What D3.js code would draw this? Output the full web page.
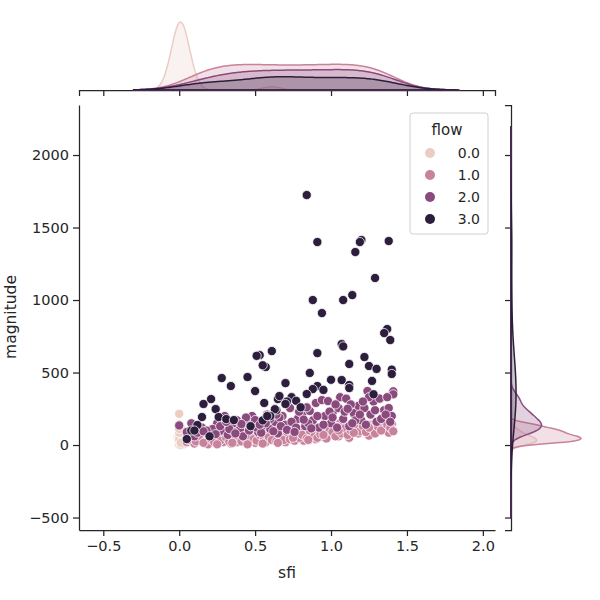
<html>
<head>
<meta charset="UTF-8">
<script src="https://d3js.org/d3.v7.min.js"></script>
<style>
  body { margin: 0; background: white; }
  text { font-family: "DejaVu Sans", sans-serif; fill: #262626; }
</style>
</head>
<body>
<svg></svg>
<script>
  // data: [sfi, magnitude] per flow level
  let flowLevels = ["0.0", "1.0", "2.0", "3.0"];
  let colors = ["#ebcdc4", "#c8829b", "#8b4a7e", "#2d1e3e"];
  let xTicks = [-0.5, 0, 0.5, 1, 1.5, 2];
  let yTicks = [-500, 0, 500, 1000, 1500, 2000];

  let flow0 = [[0,0],[0.01,20],[0,40],[0.02,60],[0,80],[0.01,100],[0,215],[0.02,10],[0,30],[0.01,50],
    [0.03,5],[0,70],[0.02,90],[0.01,120],[0,15],[0.6,100],[0.62,70],[0.0,140],[0.02,25],
    [0.04,35],[-0.01,55],[0.0,45],[0.01,8],[0,12],[0.01,28],[0,33],[0.02,38],[0,48],[0.01,42],
    [0,22],[0.03,18],[0,62],[0.01,66],[0,58],[0.02,52],[0,3],[0.01,2],[0,26],[0.02,44],[0,36],
    [0.01,75],[0,85],[0.03,30],[0,110],[0.01,16]];
  let flow1 = [[0.05,20],[0.08,60],[0.1,10],[0.12,40],[0.15,80],[0.18,25],[0.2,55],[0.22,100],[0.25,15],[0.28,45],
    [0.3,70],[0.32,30],[0.35,90],[0.38,20],[0.4,60],[0.42,110],[0.45,35],[0.48,75],[0.5,15],[0.52,50],
    [0.55,95],[0.58,30],[0.6,65],[0.62,120],[0.65,40],[0.68,80],[0.7,20],[0.72,55],[0.75,105],[0.78,45],
    [0.8,85],[0.82,30],[0.85,60],[0.88,120],[0.9,40],[0.92,90],[0.95,55],[0.98,130],[1.0,75],[1.02,110],
    [1.05,60],[1.08,140],[1.1,95],[1.12,50],[1.15,125],[1.18,80],[1.2,150],[1.22,105],[1.25,65],[1.28,135],
    [1.3,95],[1.32,160],[1.35,120],[1.38,85],[1.4,145],[1.4,110],[1.36,150],[1.26,140],[1.16,145],[1.06,150],
    [0.87,75],[0.66,45],[0.44,80],[0.24,60],[0.14,30],[0.34,10],[0.54,25],[0.74,70],[0.94,105],[1.14,110],
    [1.34,130],[0.09,45],[0.19,5],[0.29,20],[0.39,40],
    [0.06,35],[0.11,25],[0.13,65],[0.16,15],[0.21,40],[0.23,20],[0.26,75],[0.27,30],[0.31,50],[0.33,25],
    [0.36,40],[0.37,65],[0.41,25],[0.43,50],[0.46,20],[0.47,55],[0.49,40],[0.51,30],[0.53,70],[0.56,45],
    [0.57,20],[0.59,55],[0.61,35],[0.64,25],[0.67,60],[0.69,35],[0.71,90],[0.73,40],[0.76,30],[0.77,60],
    [0.79,50],[0.81,70],[0.84,45],[0.86,100],[0.89,60],[0.91,50],[0.93,75],[0.96,95],[0.97,45],[0.99,100],
    [1.01,90],[1.03,60],[1.04,125],[1.07,80],[1.09,115],[1.11,70],[1.13,100],[1.17,115],[1.19,95],[1.21,130],
    [1.23,90],[1.24,140],[1.27,110],[1.29,80],[1.31,125],[1.33,100],[1.37,140],[1.39,120],[1.41,95],[0.35,15],
    [0.45,5],[0.55,10],[0.25,5],[0.65,15],[0.75,50],[0.85,35],[0.95,70],[1.05,100],[1.15,85],[1.25,120]];
  let flow2 = [[0.0,135],[0.05,90],[0.1,60],[0.15,120],[0.2,80],[0.25,150],[0.28,100],[0.3,200],[0.32,70],[0.35,130],
    [0.38,170],[0.4,110],[0.42,60],[0.45,150],[0.48,200],[0.5,172],[0.52,90],[0.55,130],[0.58,210],[0.6,110],
    [0.63,160],[0.65,80],[0.68,200],[0.7,140],[0.73,255],[0.75,100],[0.78,180],[0.81,217],[0.83,130],[0.86,235],
    [0.88,170],[0.9,290],[0.92,120],[0.94,310],[0.96,200],[0.98,303],[1.0,150],[1.02,240],[1.05,255],[1.06,330],
    [1.08,180],[1.1,320],[1.12,130],[1.15,220],[1.18,270],[1.2,170],[1.22,255],[1.24,372],[1.26,210],[1.28,300],
    [1.3,160],[1.32,320],[1.35,240],[1.38,255],[1.4,200],[1.41,370],[1.41,350],[1.37,330],[1.25,330],[1.13,280],
    [0.99,230],[0.79,230],[0.6,180],[0.44,190],[0.22,110],[0.08,150],[0.36,90],[0.66,190],[0.85,150],[1.16,170],
    [0.12,85],[0.18,100],[0.24,75],[0.27,130],[0.33,110],[0.37,80],[0.41,145],[0.46,100],[0.51,120],[0.54,85],
    [0.57,150],[0.62,95],[0.67,130],[0.71,105],[0.74,160],[0.77,120],[0.82,175],[0.87,115],[0.91,200],[0.95,140],
    [1.01,190],[1.04,120],[1.09,230],[1.14,150],[1.19,210],[1.23,140],[1.29,240],[1.33,180],[1.36,210],[1.39,160],
    [0.31,160],[0.47,130],[0.64,210],[0.84,260],[1.03,280],[1.21,300],[0.16,95],[0.53,140],[0.76,90],[1.11,250]];
  let flow3 = [[0.84,1724],[0.91,1400],[1.20,1414],[1.19,1400],[1.38,1407],[1.16,1331],[1.29,1152],[0.88,1000],[1.08,1000],[1.14,1034],
    [0.94,910],[1.37,800],[1.35,772],[1.39,724],[1.07,696],[1.08,680],[0.91,634],[0.61,648],[0.53,620],[0.51,615],
    [0.57,538],[0.55,550],[1.22,607],[1.12,559],[1.25,545],[1.30,525],[1.40,520],[1.40,490],[0.86,497],[0.28,462],
    [0.45,469],[0.34,407],[0.50,372],[0.70,427],[1.07,448],[1.12,414],[1.12,393],[1.27,442],[0.91,407],[0.88,386],
    [0.84,352],[0.74,330],[0.65,317],[0.71,300],[0.77,305],[0.66,338],[0.16,283],[0.21,317],[0.24,248],[0.56,290],
    [0.64,240],[0.63,247],[0.60,200],[0.70,283],[0.15,193],[0.26,193],[0.31,179],[0.36,172],[0.12,138],[0.05,41],
    [0.08,100],[0.10,100],[0.55,170],[0.58,200],[1.28,350],[0.2,60],[0.47,130],[0.8,260],[1.0,450],[0.95,380]];
  let groups = [flow0, flow1, flow2, flow3];

  let svg = d3.select("svg").attr("width", 600).attr("height", 600);
  let x = d3.scaleLinear().domain([-0.66, 2.08]).range([79, 495]);
  let y = d3.scaleLinear().domain([-586, 2345]).range([530, 105]);

  // axes
  let xa = svg.append("g").attr("transform", "translate(0,530)")
    .call(d3.axisBottom(x).tickValues(xTicks).tickFormat(d3.format(".1f")).tickSizeOuter(0));
  let ya = svg.append("g").attr("transform", "translate(79,0)")
    .call(d3.axisLeft(y).tickValues(yTicks).tickFormat(d3.format("d")).tickSizeOuter(0));
  [xa, ya].forEach(a => {
    a.selectAll("path,line").attr("stroke", "#262626").attr("stroke-width", 1.25);
    a.selectAll("line").attr(a === xa ? "y2" : "x2", a === xa ? 6 : -6);
    a.selectAll("text").attr("font-size", 14.5).style("font-family", "DejaVu Sans").attr("fill", "#262626");
  });
  xa.selectAll("text").attr("y", 11);
  ya.selectAll("text").attr("x", -10);
  svg.append("text").attr("x", 287).attr("y", 578).attr("text-anchor", "middle").attr("font-size", 15.5).text("sfi");
  svg.append("text").attr("transform", "translate(16,317) rotate(-90)").attr("text-anchor", "middle")
    .attr("font-size", 15.5).text("magnitude");

  // marginal axes
  let topBase = 90, rightBase = 511;
  let ta = svg.append("g").attr("transform", "translate(0," + topBase + ")")
    .call(d3.axisBottom(x).tickValues(xTicks).tickFormat("").tickSizeOuter(0).tickSize(6));
  let ra = svg.append("g").attr("transform", "translate(" + rightBase + ",0)")
    .call(d3.axisLeft(y).tickValues(yTicks).tickFormat("").tickSizeOuter(0).tickSize(6));
  [ta, ra].forEach(a => a.selectAll("path,line").attr("stroke", "#262626").attr("stroke-width", 1.25));

  // KDE, seaborn style (scott bandwidth, common norm)
  let N = d3.sum(groups, g => g.length);
  function kde(vals, grid) {
    let n = vals.length, sd = d3.deviation(vals);
    let bw = sd * Math.pow(n, -0.2);
    return grid.map(t => [t, d3.sum(vals, v => Math.exp(-0.5 * ((t - v) / bw) ** 2)) / (n * bw * Math.sqrt(2 * Math.PI)) * n / N]);
  }
  let gx = d3.range(-0.3, 1.85, 0.01), gy = d3.range(-500, 2200, 5);
  let kx = groups.map(g => kde(g.map(d => d[0]), gx));
  let ky = groups.map(g => kde(g.map(d => d[1]), gy));
  let hx = d3.scaleLinear().domain([0, d3.max(kx, k => d3.max(k, d => d[1]))]).range([0, 68]);
  let hy = d3.scaleLinear().domain([0, d3.max(ky, k => d3.max(k, d => d[1]))]).range([0, 70]);

  kx.forEach((k, i) => {
    svg.append("path").datum(k)
      .attr("d", d3.area().x(d => x(d[0])).y0(topBase).y1(d => topBase - hx(d[1])))
      .attr("fill", colors[i]).attr("fill-opacity", 0.25)
      .attr("stroke", colors[i]).attr("stroke-width", 1.5);
  });
  ky.forEach((k, i) => {
    svg.append("path").datum(k)
      .attr("d", d3.area().y(d => y(d[0])).x0(rightBase).x1(d => rightBase + hy(d[1])))
      .attr("fill", colors[i]).attr("fill-opacity", 0.25)
      .attr("stroke", colors[i]).attr("stroke-width", 1.5);
  });

  // scatter
  groups.forEach((g, i) => {
    svg.append("g").selectAll("circle").data(g).enter().append("circle")
      .attr("cx", d => x(d[0])).attr("cy", d => y(d[1])).attr("r", 4.6)
      .attr("fill", colors[i]).attr("stroke", "white").attr("stroke-width", 0.75);
  });

  // legend
  let lg = svg.append("g").attr("transform", "translate(410,113)");
  lg.append("rect").attr("width", 78).attr("height", 121).attr("rx", 3)
    .attr("fill", "white").attr("fill-opacity", 0.8).attr("stroke", "#d0d0d0");
  lg.append("text").attr("x", 37).attr("y", 22).attr("text-anchor", "middle").attr("font-size", 15).text("flow");
  flowLevels.forEach((f, i) => {
    lg.append("circle").attr("cx", 20).attr("cy", 40 + i * 22).attr("r", 5).attr("fill", colors[i]);
    lg.append("text").attr("x", 70).attr("y", 45 + i * 22).attr("text-anchor", "end").attr("font-size", 14).text(f);
  });
</script>
</body>
</html>
